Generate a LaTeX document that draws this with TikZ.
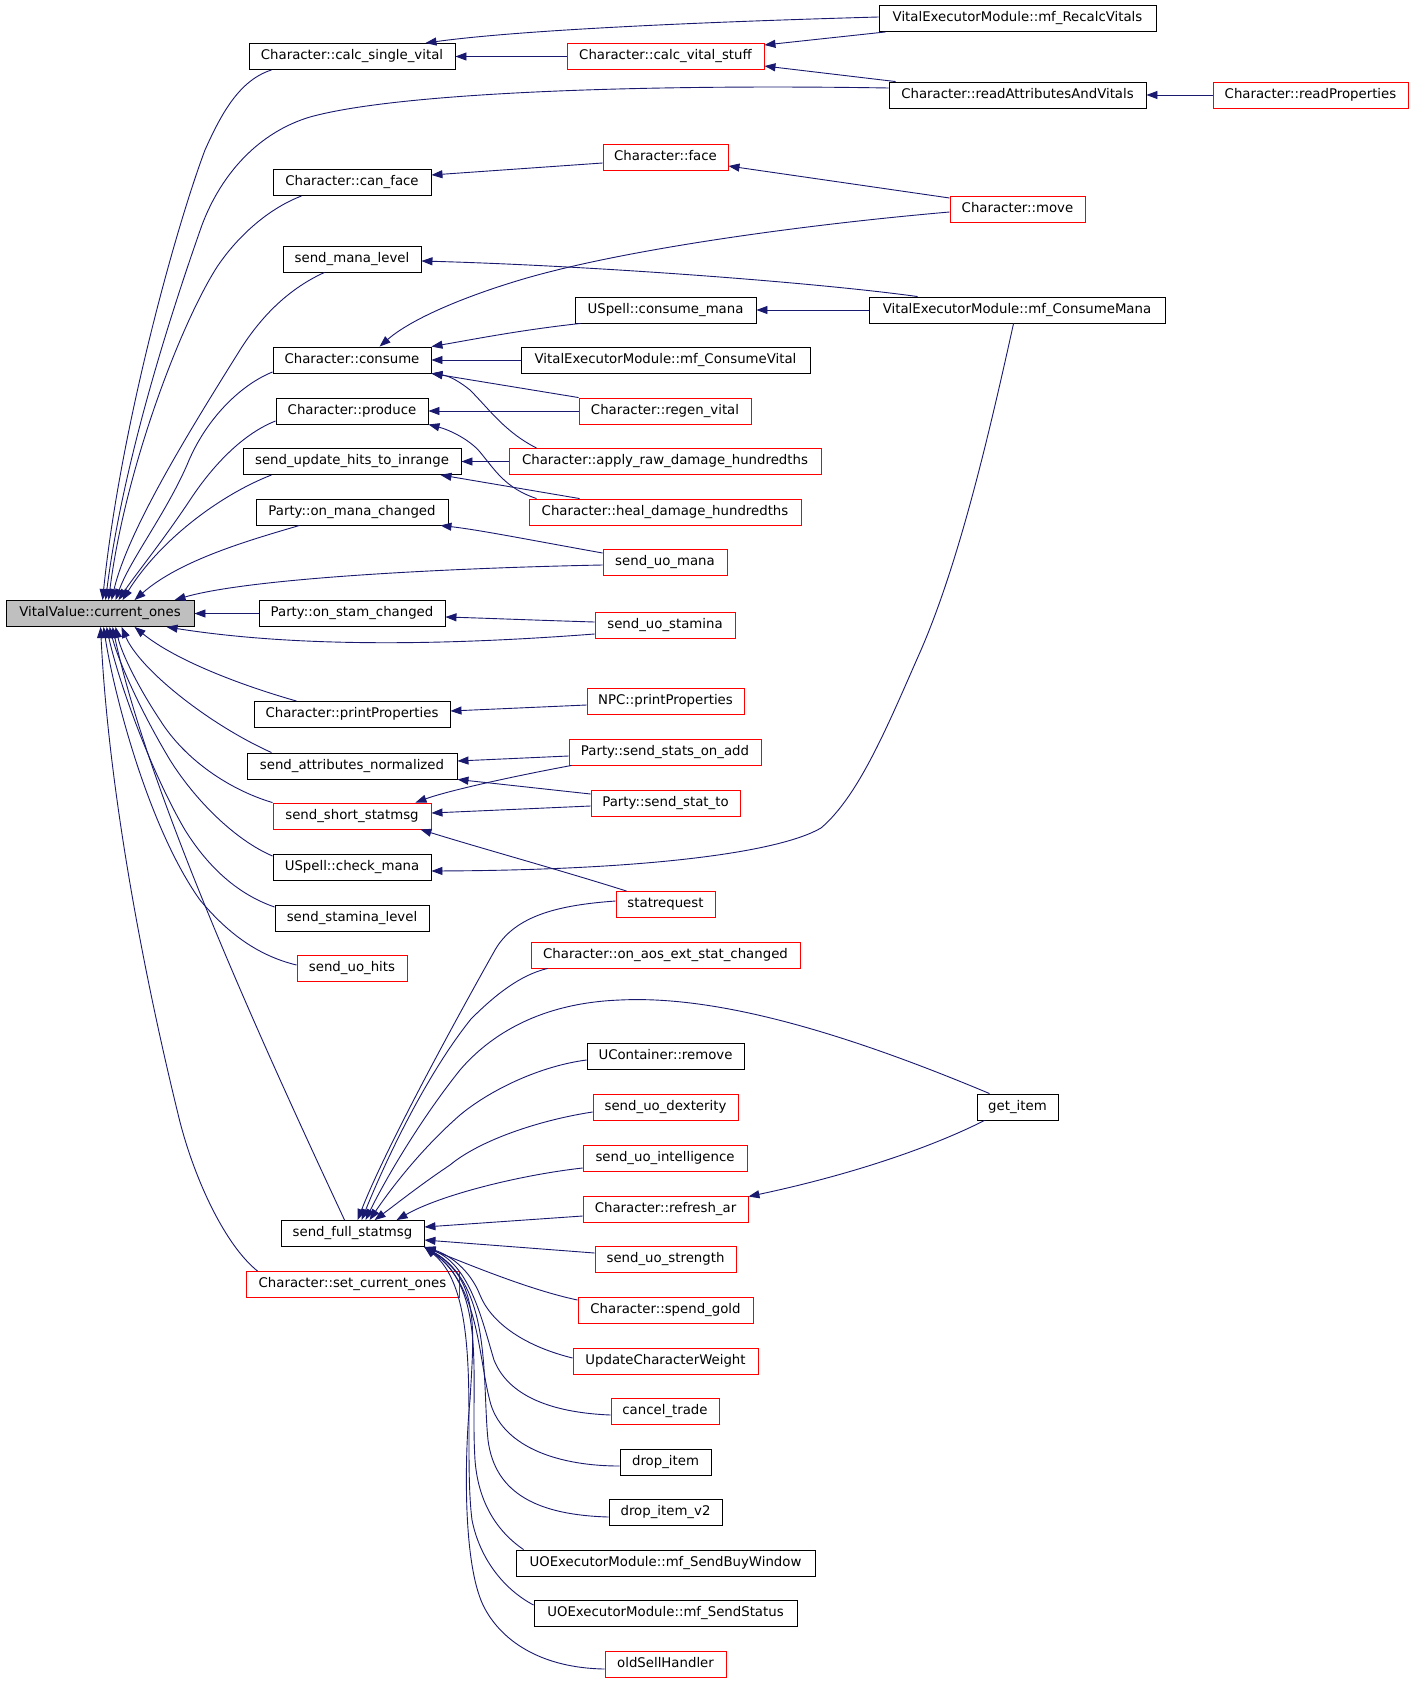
\documentclass[tikz,border=0pt]{standalone}
\usepackage{fontspec}
\setmainfont{DejaVu Sans}
\usetikzlibrary{arrows.meta}
\definecolor{edgec}{HTML}{191970}
\definecolor{grayfill}{HTML}{BFBFBF}
\begin{document}
\begin{tikzpicture}[x=1pt,y=-1pt,
  nb/.style={draw=black, line width=0.9pt, fill=white, minimum height=26pt, inner sep=0pt, text height=9.8pt, text depth=3pt, font=\fontsize{13.3}{16}\selectfont},
  nr/.style={nb, draw=red},
  e/.style={draw=edgec, line width=0.9pt, -{Triangle[length=11pt,width=8pt]}}]
\fill[white] (0,0) rectangle (1413,1683);
\useasboundingbox (0,0) rectangle (1413,1683);
% nodes
\node[nb, fill=grayfill, minimum width=188pt] (V) at (100,613.5) {VitalValue::current\_ones};
\node[nb, minimum width=206pt] (csv) at (352,56.5) {Character::calc\_single\_vital};
\node[nr, minimum width=197pt] (cvs) at (665.5,56.5) {Character::calc\_vital\_stuff};
\node[nb, minimum width=277pt] (rv) at (1017.5,18.5) {VitalExecutorModule::mf\_RecalcVitals};
\node[nb, minimum width=257pt] (rav) at (1017.5,95) {Character::readAttributesAndVitals};
\node[nr, minimum width=195pt] (rp) at (1310.5,95) {Character::readProperties};
\node[nb, minimum width=158pt] (cf) at (352,182.5) {Character::can\_face};
\node[nr, minimum width=125pt] (face) at (665.5,157.5) {Character::face};
\node[nr, minimum width=135pt] (move) at (1017.5,209) {Character::move};
\node[nb, minimum width=138pt] (sml) at (352,259) {send\_mana\_level};
\node[nb, minimum width=181pt] (cm) at (665.5,310) {USpell::consume\_mana};
\node[nb, minimum width=296pt] (mcm) at (1017,310) {VitalExecutorModule::mf\_ConsumeMana};
\node[nb, minimum width=158pt] (con) at (352,360) {Character::consume};
\node[nb, minimum width=289pt] (mcv) at (665.5,360) {VitalExecutorModule::mf\_ConsumeVital};
\node[nb, minimum width=152pt] (prod) at (352,411) {Character::produce};
\node[nr, minimum width=172pt] (rvit) at (665,411) {Character::regen\_vital};
\node[nb, minimum width=218pt] (suh) at (352,461.5) {send\_update\_hits\_to\_inrange};
\node[nr, minimum width=312pt] (ard) at (665,461.5) {Character::apply\_raw\_damage\_hundredths};
\node[nb, minimum width=192pt] (omc) at (352,512) {Party::on\_mana\_changed};
\node[nr, minimum width=272pt] (hdh) at (665,512) {Character::heal\_damage\_hundredths};
\node[nr, minimum width=124pt] (sum) at (665,562.5) {send\_uo\_mana};
\node[nb, minimum width=186pt] (osc) at (352,613.5) {Party::on\_stam\_changed};
\node[nr, minimum width=140pt] (sus) at (665,625.5) {send\_uo\_stamina};
\node[nb, minimum width=196pt] (pp) at (352,714.5) {Character::printProperties};
\node[nr, minimum width=157pt] (npp) at (665.5,701.5) {NPC::printProperties};
\node[nb, minimum width=210pt] (san) at (352,766) {send\_attributes\_normalized};
\node[nr, minimum width=192pt] (ssoa) at (665,752) {Party::send\_stats\_on\_add};
\node[nr, minimum width=158pt] (sss) at (352,816) {send\_short\_statmsg};
\node[nr, minimum width=149pt] (sst) at (665.5,803) {Party::send\_stat\_to};
\node[nb, minimum width=158pt] (ckm) at (352,867) {USpell::check\_mana};
\node[nr, minimum width=99pt] (sr) at (665.5,904.5) {statrequest};
\node[nb, minimum width=154pt] (ssl) at (352,918) {send\_stamina\_level};
\node[nr, minimum width=269pt] (aos) at (665.5,955) {Character::on\_aos\_ext\_stat\_changed};
\node[nr, minimum width=110pt] (suhits) at (352,968) {send\_uo\_hits};
\node[nb, minimum width=157pt] (ucr) at (665.5,1056.5) {UContainer::remove};
\node[nr, minimum width=145pt] (sud) at (665.5,1107) {send\_uo\_dexterity};
\node[nb, minimum width=81pt] (gi) at (1017.5,1107) {get\_item};
\node[nr, minimum width=164pt] (sui) at (665,1158) {send\_uo\_intelligence};
\node[nr, minimum width=165pt] (rar) at (665.5,1209) {Character::refresh\_ar};
\node[nb, minimum width=143pt] (sfs) at (352.5,1233.5) {send\_full\_statmsg};
\node[nr, minimum width=141pt] (sust) at (665.5,1259) {send\_uo\_strength};
\node[nr, minimum width=213pt] (sco) at (352.5,1284.5) {Character::set\_current\_ones};
\node[nr, minimum width=175pt] (sg) at (665.5,1310) {Character::spend\_gold};
\node[nr, minimum width=185pt] (ucw) at (665.5,1361) {UpdateCharacterWeight};
\node[nr, minimum width=108pt] (ct) at (665,1411) {cancel\_trade};
\node[nb, minimum width=91pt] (di) at (665.5,1462) {drop\_item};
\node[nb, minimum width=113pt] (di2) at (665.5,1512.5) {drop\_item\_v2};
\node[nb, minimum width=299pt] (sbw) at (665.5,1563) {UOExecutorModule::mf\_SendBuyWindow};
\node[nb, minimum width=263pt] (ss) at (665.5,1613.5) {UOExecutorModule::mf\_SendStatus};
\node[nr, minimum width=121pt] (osh) at (665.5,1664) {oldSellHandler};
% edges into VitalValue::current_ones (top)
\draw[e] ([xshift=23pt]csv.south west) .. controls (240,80) and (222,112) .. (205,150) .. controls (175,230) and (120,430) .. ([xshift=97pt]V.north west);
\draw[e] ([yshift=7pt]rav.west) .. controls (650,84) and (400,92) .. (310,117) .. controls (260,132) and (222,172) .. (202,225) .. controls (165,330) and (122,470) .. ([xshift=100pt]V.north west);
\draw[e] ([xshift=29pt]cf.south west) .. controls (265,210) and (235,240) .. (217,267) .. controls (180,325) and (125,470) .. ([xshift=103pt]V.north west);
\draw[e] ([xshift=42pt]sml.south west) .. controls (290,288) and (262,315) .. (240,350) .. controls (190,430) and (128,530) .. ([xshift=106pt]V.north west);
\draw[e] ([yshift=-12pt]con.west) .. controls (240,385) and (205,420) .. (187,465) .. controls (165,515) and (130,560) .. ([xshift=110pt]V.north west);
\draw[e] ([yshift=-10pt]prod.west) .. controls (245,433) and (215,462) .. (190,500) .. controls (160,545) and (135,575) .. ([xshift=113pt]V.north west);
\draw[e] ([xshift=29pt]suh.south west) .. controls (220,495) and (160,540) .. ([xshift=117pt]V.north west);
\draw[e] ([xshift=44pt]omc.south west) .. controls (250,540) and (180,560) .. ([xshift=129pt]V.north west);
\draw[e] ([yshift=-2.5pt]sum.west) .. controls (450,568) and (250,578) .. ([xshift=169pt]V.north west);
\draw[e] (osc.west) -- (V.east);
% edges into VitalValue::current_ones (bottom)
\draw[e] ([yshift=-8.5pt]sus.west) .. controls (450,645) and (300,648) .. ([xshift=161pt]V.south west);
\draw[e] ([xshift=43pt]pp.north west) .. controls (240,685) and (175,660) .. ([xshift=129pt]V.south west);
\draw[e] ([xshift=25pt]san.north west) .. controls (210,725) and (140,670) .. ([xshift=116pt]V.south west);
\draw[e] (sss.north west) .. controls (230,790) and (185,760) .. (160,720) .. controls (140,690) and (122,655) .. ([xshift=110pt]V.south west);
\draw[e] ([yshift=11pt]ckm.west) .. controls (235,840) and (195,800) .. (170,760) .. controls (140,710) and (118,660) .. ([xshift=104pt]V.south west);
\draw[e] ([yshift=11pt]ssl.west) .. controls (240,895) and (210,870) .. (185,830) .. controls (150,770) and (118,680) .. ([xshift=101pt]V.south west);
\draw[e] ([yshift=3pt]suhits.west) .. controls (255,955) and (225,930) .. (200,900) .. controls (150,830) and (115,700) .. ([xshift=98pt]V.south west);
\draw[e] ([xshift=64pt]sfs.north west) .. controls (270,1060) and (150,800) .. ([xshift=107pt]V.south west);
\draw[e] ([xshift=12pt]sco.north west) .. controls (225,1245) and (195,1180) .. (180,1122) .. controls (140,960) and (108,780) .. ([xshift=95pt]V.south west);
% upper group
\draw[e] ([yshift=1.5pt]rv.west) .. controls (700,22) and (520,30) .. ([xshift=-30pt]csv.north east);
\draw[e] (cvs.west) -- (csv.east);
\draw[e] ([xshift=7pt]rv.south west) -- ([yshift=11.5pt]cvs.east);
\draw[e] ([xshift=7pt]rav.north west) -- ([yshift=-9.5pt]cvs.east);
\draw[e] (rp.west) -- (rav.east);
\draw[e] ([yshift=-5.5pt]face.west) -- ([yshift=7.5pt]cf.east);
\draw[e] ([yshift=11pt]move.west) -- ([yshift=-8.5pt]face.east);
\draw[e] ([yshift=-3pt]move.west) .. controls (800,225) and (620,250) .. (520,280) .. controls (460,298) and (410,320) .. ([xshift=107pt]con.north west);
\draw[e] ([xshift=49pt]mcm.north west) .. controls (820,283) and (600,266) .. ([yshift=-2pt]sml.east);
\draw[e] ([xshift=6pt]cm.south west) .. controls (520,330) and (470,340) .. (con.north east);
\draw[e] (mcm.west) -- (cm.east);
\draw[e] (mcv.west) -- (con.east);
\draw[e] (rvit.north west) -- (con.south east);
\draw[e] ([xshift=28pt]ard.north west) .. controls (505,432) and (490,410) .. (470,390) .. controls (460,382) and (450,376) .. (con.south east);
\draw[e] (rvit.west) -- (prod.east);
\draw[e] ([xshift=8pt]hdh.north west) .. controls (505,488) and (495,470) .. (480,452) .. controls (470,440) and (450,430) .. (prod.south east);
\draw[e] (ard.west) -- (suh.east);
\draw[e] ([xshift=51pt]hdh.north west) -- ([xshift=-21pt]suh.south east);
\draw[e] ([yshift=9.5pt]sum.west) .. controls (530,540) and (480,530) .. ([xshift=-8pt]omc.south east);
\draw[e] ([yshift=3.5pt]sus.west) .. controls (530,620) and (480,618) .. ([yshift=-3.5pt]osc.east);
\draw[e] ([yshift=-3.5pt]npp.west) -- ([yshift=3.5pt]pp.east);
\draw[e] ([yshift=-4pt]ssoa.west) -- ([yshift=5pt]san.east);
\draw[e] ([yshift=9pt]sst.west) -- (san.south east);
\draw[e] ([xshift=3pt]ssoa.south west) .. controls (520,775) and (450,790) .. ([xshift=-16pt]sss.north east);
\draw[e] ([yshift=-3pt]sst.west) -- ([yshift=3pt]sss.east);
\draw[e] ([xshift=11pt]sr.north west) .. controls (560,870) and (480,848) .. ([xshift=-11pt]sss.south east);
\draw[e] ([xshift=145pt]mcm.south west) .. controls (990,430) and (960,560) .. (921,650) .. controls (890,720) and (860,795) .. (821,828) .. controls (780,852) and (650,870) .. ([yshift=-4pt]ckm.east);
% send_full_statmsg group
\draw[e] ([yshift=3.5pt]sr.west) .. controls (560,905) and (515,915) .. (495,950) .. controls (450,1030) and (385,1150) .. ([xshift=77pt]sfs.north west);
\draw[e] ([xshift=17pt]aos.south west) .. controls (520,975) and (495,995) .. (471,1019) .. controls (430,1070) and (390,1150) .. ([xshift=81pt]sfs.north west);
\draw[e] ([xshift=13pt]gi.north west) .. controls (850,1035) and (720,995) .. (620,1000) .. controls (540,1003) and (490,1035) .. (460,1070) .. controls (420,1120) and (385,1180) .. ([xshift=85pt]sfs.north west);
\draw[e] ([yshift=-3.5pt]ucr.west) .. controls (540,1066) and (490,1090) .. (460,1115) .. controls (420,1150) and (390,1190) .. ([xshift=89pt]sfs.north west);
\draw[e] ([yshift=-5pt]sud.west) .. controls (540,1120) and (480,1140) .. (450,1165) .. controls (420,1185) and (395,1205) .. ([xshift=94pt]sfs.north west);
\draw[e] ([yshift=-10pt]sui.west) .. controls (520,1175) and (440,1195) .. ([xshift=116pt]sfs.north west);
\draw[e] ([yshift=-7pt]rar.west) -- ([yshift=6.5pt]sfs.east);
\draw[e] ([yshift=6pt]sust.west) -- ([yshift=-6.5pt]sfs.east);
\draw[e] ([yshift=10pt]sg.west) .. controls (530,1290) and (470,1265) .. (sfs.south east);
\draw[e] ([yshift=3pt]ucw.west) .. controls (520,1345) and (490,1320) .. (480,1295) .. controls (470,1270) and (450,1255) .. (sfs.south east);
\draw[e] ([yshift=-4pt]ct.west) .. controls (560,1413) and (510,1400) .. (494,1360) .. controls (482,1320) and (470,1265) .. (sfs.south east);
\draw[e] ([yshift=-4pt]di.west) .. controls (560,1466) and (505,1448) .. (491,1405) .. controls (478,1360) and (480,1285) .. (sfs.south east);
\draw[e] ([yshift=-4.5pt]di2.west) .. controls (540,1515) and (495,1495) .. (488,1440) .. controls (482,1380) and (492,1285) .. (sfs.south east);
\draw[e] ([xshift=8pt]sbw.north west) .. controls (495,1530) and (478,1500) .. (475,1460) .. controls (470,1380) and (488,1290) .. (sfs.south east);
\draw[e] ([yshift=8.5pt]ss.west) .. controls (505,1590) and (480,1560) .. (472,1520) .. controls (462,1440) and (485,1295) .. (sfs.south east);
\draw[e] ([yshift=-5pt]osh.west) .. controls (540,1668) and (500,1640) .. (483,1605) .. controls (462,1560) and (465,1450) .. (470,1400) .. controls (474,1330) and (480,1280) .. (sfs.south east);
\draw[e] ([xshift=8pt]gi.south west) .. controls (930,1148) and (850,1175) .. ([yshift=-1pt]rar.north east);
\end{tikzpicture}
\end{document}
